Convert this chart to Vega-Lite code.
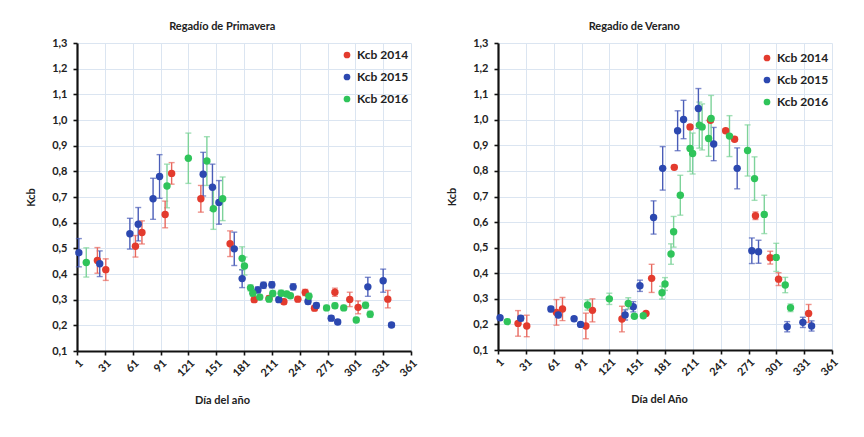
{
  "$schema": "https://vega.github.io/schema/vega-lite/v6.json",
  "background": "white",
  "padding": {"left": 25, "top": 21, "right": 5, "bottom": 5},
  "config": {
    "font": "Lato",
    "view": {"stroke": null},
    "concat": {"spacing": 27},
    "axis": {
      "domainColor": "#111", "domainWidth": 2.2,
      "tickColor": "#111", "tickWidth": 1.6, "tickSize": 4,
      "gridColor": "#dbe5f1", "gridWidth": 1,
      "labelOverlap": false, "labelFlush": false, "labelBound": false,
      "labelFont": "Lato", "labelFontWeight": "bold", "labelFontSize": 11, "labelColor": "#222",
      "titleFont": "Lato", "titleFontWeight": "bold", "titleFontSize": 11, "titleColor": "#222"
    },
    "legend": {
      "orient": "none", "title": null, "symbolType": "circle", "symbolSize": 45,
      "symbolStrokeWidth": 0, "labelFont": "Lato", "labelFontSize": 12, "labelFontWeight": "bold",
      "labelColor": "#222", "rowPadding": 10, "labelOffset": 4, "padding": 0
    },
    "title": {"font": "Lato", "fontSize": 11, "fontWeight": "bold", "color": "#222", "frame": "bounds", "offset": 5}
  },
  "datasets": {
    "P": [
      {"s": "Kcb 2014", "d": 23, "k": 0.453, "lo": 0.403, "hi": 0.503},
      {"s": "Kcb 2014", "d": 32, "k": 0.417, "lo": 0.375, "hi": 0.459},
      {"s": "Kcb 2014", "d": 64, "k": 0.508, "lo": 0.466, "hi": 0.550},
      {"s": "Kcb 2014", "d": 71, "k": 0.562, "lo": 0.517, "hi": 0.607},
      {"s": "Kcb 2014", "d": 96, "k": 0.632, "lo": 0.580, "hi": 0.684},
      {"s": "Kcb 2014", "d": 103, "k": 0.792, "lo": 0.750, "hi": 0.834},
      {"s": "Kcb 2014", "d": 134.5, "k": 0.693, "lo": 0.641, "hi": 0.745},
      {"s": "Kcb 2014", "d": 166, "k": 0.518, "lo": 0.468, "hi": 0.568},
      {"s": "Kcb 2014", "d": 192, "k": 0.300, "lo": 0.290, "hi": 0.310},
      {"s": "Kcb 2014", "d": 208, "k": 0.305, "lo": 0.295, "hi": 0.315},
      {"s": "Kcb 2014", "d": 224, "k": 0.292, "lo": 0.282, "hi": 0.302},
      {"s": "Kcb 2014", "d": 239, "k": 0.302, "lo": 0.292, "hi": 0.312},
      {"s": "Kcb 2014", "d": 247, "k": 0.328, "lo": 0.316, "hi": 0.340},
      {"s": "Kcb 2014", "d": 257, "k": 0.267, "lo": 0.257, "hi": 0.277},
      {"s": "Kcb 2014", "d": 279, "k": 0.329, "lo": 0.313, "hi": 0.345},
      {"s": "Kcb 2014", "d": 295, "k": 0.301, "lo": 0.273, "hi": 0.329},
      {"s": "Kcb 2014", "d": 304, "k": 0.270, "lo": 0.245, "hi": 0.295},
      {"s": "Kcb 2014", "d": 336, "k": 0.302, "lo": 0.268, "hi": 0.336},
      {"s": "Kcb 2015", "d": 3, "k": 0.483, "lo": 0.428, "hi": 0.538},
      {"s": "Kcb 2015", "d": 25.5, "k": 0.440, "lo": 0.390, "hi": 0.490},
      {"s": "Kcb 2015", "d": 58, "k": 0.557, "lo": 0.497, "hi": 0.617},
      {"s": "Kcb 2015", "d": 67, "k": 0.594, "lo": 0.529, "hi": 0.659},
      {"s": "Kcb 2015", "d": 83, "k": 0.693, "lo": 0.613, "hi": 0.773},
      {"s": "Kcb 2015", "d": 90, "k": 0.780, "lo": 0.695, "hi": 0.865},
      {"s": "Kcb 2015", "d": 137, "k": 0.789, "lo": 0.704, "hi": 0.874},
      {"s": "Kcb 2015", "d": 147, "k": 0.738, "lo": 0.648, "hi": 0.828},
      {"s": "Kcb 2015", "d": 154, "k": 0.679, "lo": 0.594, "hi": 0.764},
      {"s": "Kcb 2015", "d": 170.5, "k": 0.498, "lo": 0.433, "hi": 0.563},
      {"s": "Kcb 2015", "d": 179, "k": 0.382, "lo": 0.347, "hi": 0.417},
      {"s": "Kcb 2015", "d": 196, "k": 0.338, "lo": 0.326, "hi": 0.350},
      {"s": "Kcb 2015", "d": 202, "k": 0.356, "lo": 0.344, "hi": 0.368},
      {"s": "Kcb 2015", "d": 211, "k": 0.358, "lo": 0.346, "hi": 0.370},
      {"s": "Kcb 2015", "d": 218.5, "k": 0.300, "lo": 0.290, "hi": 0.310},
      {"s": "Kcb 2015", "d": 234, "k": 0.350, "lo": 0.338, "hi": 0.362},
      {"s": "Kcb 2015", "d": 250, "k": 0.293, "lo": 0.283, "hi": 0.303},
      {"s": "Kcb 2015", "d": 259, "k": 0.277, "lo": 0.267, "hi": 0.287},
      {"s": "Kcb 2015", "d": 275, "k": 0.228, "lo": 0.218, "hi": 0.238},
      {"s": "Kcb 2015", "d": 282, "k": 0.213, "lo": 0.205, "hi": 0.221},
      {"s": "Kcb 2015", "d": 314.5, "k": 0.350, "lo": 0.313, "hi": 0.387},
      {"s": "Kcb 2015", "d": 331, "k": 0.374, "lo": 0.329, "hi": 0.419},
      {"s": "Kcb 2015", "d": 340, "k": 0.201, "lo": 0.193, "hi": 0.209},
      {"s": "Kcb 2016", "d": 11, "k": 0.445, "lo": 0.388, "hi": 0.502},
      {"s": "Kcb 2016", "d": 98, "k": 0.743, "lo": 0.658, "hi": 0.828},
      {"s": "Kcb 2016", "d": 121, "k": 0.851, "lo": 0.753, "hi": 0.949},
      {"s": "Kcb 2016", "d": 141, "k": 0.840, "lo": 0.745, "hi": 0.935},
      {"s": "Kcb 2016", "d": 148, "k": 0.654, "lo": 0.574, "hi": 0.734},
      {"s": "Kcb 2016", "d": 158, "k": 0.693, "lo": 0.608, "hi": 0.778},
      {"s": "Kcb 2016", "d": 179, "k": 0.461, "lo": 0.416, "hi": 0.506},
      {"s": "Kcb 2016", "d": 181.5, "k": 0.431, "lo": 0.396, "hi": 0.466},
      {"s": "Kcb 2016", "d": 188, "k": 0.346, "lo": 0.334, "hi": 0.358},
      {"s": "Kcb 2016", "d": 190.5, "k": 0.325, "lo": 0.313, "hi": 0.337},
      {"s": "Kcb 2016", "d": 198, "k": 0.310, "lo": 0.300, "hi": 0.320},
      {"s": "Kcb 2016", "d": 208, "k": 0.302, "lo": 0.292, "hi": 0.312},
      {"s": "Kcb 2016", "d": 212, "k": 0.324, "lo": 0.312, "hi": 0.336},
      {"s": "Kcb 2016", "d": 221, "k": 0.325, "lo": 0.313, "hi": 0.337},
      {"s": "Kcb 2016", "d": 227, "k": 0.322, "lo": 0.312, "hi": 0.332},
      {"s": "Kcb 2016", "d": 231, "k": 0.315, "lo": 0.305, "hi": 0.325},
      {"s": "Kcb 2016", "d": 251, "k": 0.313, "lo": 0.301, "hi": 0.325},
      {"s": "Kcb 2016", "d": 270, "k": 0.268, "lo": 0.258, "hi": 0.278},
      {"s": "Kcb 2016", "d": 279, "k": 0.276, "lo": 0.266, "hi": 0.286},
      {"s": "Kcb 2016", "d": 288.5, "k": 0.268, "lo": 0.258, "hi": 0.278},
      {"s": "Kcb 2016", "d": 302, "k": 0.221, "lo": 0.211, "hi": 0.231},
      {"s": "Kcb 2016", "d": 312, "k": 0.278, "lo": 0.266, "hi": 0.290},
      {"s": "Kcb 2016", "d": 317, "k": 0.243, "lo": 0.231, "hi": 0.255}
    ],
    "V": [
      {"s": "Kcb 2014", "d": 22.6, "k": 0.204, "lo": 0.154, "hi": 0.254},
      {"s": "Kcb 2014", "d": 32, "k": 0.194, "lo": 0.152, "hi": 0.236},
      {"s": "Kcb 2014", "d": 64, "k": 0.247, "lo": 0.197, "hi": 0.297},
      {"s": "Kcb 2014", "d": 70.5, "k": 0.260, "lo": 0.215, "hi": 0.305},
      {"s": "Kcb 2014", "d": 95.7, "k": 0.194, "lo": 0.144, "hi": 0.244},
      {"s": "Kcb 2014", "d": 102.8, "k": 0.255, "lo": 0.210, "hi": 0.300},
      {"s": "Kcb 2014", "d": 134.6, "k": 0.221, "lo": 0.171, "hi": 0.271},
      {"s": "Kcb 2014", "d": 160.5, "k": 0.243, "lo": 0.237, "hi": 0.249},
      {"s": "Kcb 2014", "d": 166.6, "k": 0.380, "lo": 0.325, "hi": 0.435},
      {"s": "Kcb 2014", "d": 191, "k": 0.814, "lo": 0.806, "hi": 0.822},
      {"s": "Kcb 2014", "d": 208, "k": 0.972, "lo": 0.964, "hi": 0.980},
      {"s": "Kcb 2014", "d": 230, "k": 0.998, "lo": 0.990, "hi": 1.006},
      {"s": "Kcb 2014", "d": 246.4, "k": 0.957, "lo": 0.949, "hi": 0.965},
      {"s": "Kcb 2014", "d": 256, "k": 0.924, "lo": 0.916, "hi": 0.932},
      {"s": "Kcb 2014", "d": 278.5, "k": 0.625, "lo": 0.610, "hi": 0.640},
      {"s": "Kcb 2014", "d": 294.4, "k": 0.461, "lo": 0.436, "hi": 0.486},
      {"s": "Kcb 2014", "d": 303.4, "k": 0.377, "lo": 0.352, "hi": 0.402},
      {"s": "Kcb 2014", "d": 335.8, "k": 0.243, "lo": 0.208, "hi": 0.278},
      {"s": "Kcb 2015", "d": 3.2, "k": 0.226, "lo": 0.218, "hi": 0.234},
      {"s": "Kcb 2015", "d": 25.5, "k": 0.224, "lo": 0.214, "hi": 0.234},
      {"s": "Kcb 2015", "d": 58, "k": 0.260, "lo": 0.250, "hi": 0.270},
      {"s": "Kcb 2015", "d": 66, "k": 0.237, "lo": 0.227, "hi": 0.247},
      {"s": "Kcb 2015", "d": 83, "k": 0.222, "lo": 0.214, "hi": 0.230},
      {"s": "Kcb 2015", "d": 90, "k": 0.200, "lo": 0.192, "hi": 0.208},
      {"s": "Kcb 2015", "d": 138, "k": 0.237, "lo": 0.217, "hi": 0.257},
      {"s": "Kcb 2015", "d": 146.8, "k": 0.269, "lo": 0.249, "hi": 0.289},
      {"s": "Kcb 2015", "d": 154, "k": 0.351, "lo": 0.329, "hi": 0.373},
      {"s": "Kcb 2015", "d": 168.7, "k": 0.618, "lo": 0.553, "hi": 0.683},
      {"s": "Kcb 2015", "d": 178.5, "k": 0.810, "lo": 0.725, "hi": 0.895},
      {"s": "Kcb 2015", "d": 194.6, "k": 0.957, "lo": 0.879, "hi": 1.035},
      {"s": "Kcb 2015", "d": 201, "k": 1.001, "lo": 0.926, "hi": 1.076},
      {"s": "Kcb 2015", "d": 217, "k": 1.044, "lo": 0.966, "hi": 1.122},
      {"s": "Kcb 2015", "d": 233.5, "k": 0.905, "lo": 0.840, "hi": 0.970},
      {"s": "Kcb 2015", "d": 258.8, "k": 0.810, "lo": 0.730, "hi": 0.890},
      {"s": "Kcb 2015", "d": 274.6, "k": 0.488, "lo": 0.438, "hi": 0.538},
      {"s": "Kcb 2015", "d": 281.8, "k": 0.484, "lo": 0.439, "hi": 0.529},
      {"s": "Kcb 2015", "d": 312.7, "k": 0.191, "lo": 0.171, "hi": 0.211},
      {"s": "Kcb 2015", "d": 329.6, "k": 0.208, "lo": 0.188, "hi": 0.228},
      {"s": "Kcb 2015", "d": 339, "k": 0.194, "lo": 0.174, "hi": 0.214},
      {"s": "Kcb 2016", "d": 11, "k": 0.211, "lo": 0.203, "hi": 0.219},
      {"s": "Kcb 2016", "d": 97.5, "k": 0.276, "lo": 0.256, "hi": 0.296},
      {"s": "Kcb 2016", "d": 121, "k": 0.300, "lo": 0.278, "hi": 0.322},
      {"s": "Kcb 2016", "d": 141.4, "k": 0.282, "lo": 0.260, "hi": 0.304},
      {"s": "Kcb 2016", "d": 148, "k": 0.232, "lo": 0.224, "hi": 0.240},
      {"s": "Kcb 2016", "d": 157.6, "k": 0.234, "lo": 0.226, "hi": 0.242},
      {"s": "Kcb 2016", "d": 177.8, "k": 0.324, "lo": 0.299, "hi": 0.349},
      {"s": "Kcb 2016", "d": 181, "k": 0.358, "lo": 0.333, "hi": 0.383},
      {"s": "Kcb 2016", "d": 187.5, "k": 0.475, "lo": 0.435, "hi": 0.515},
      {"s": "Kcb 2016", "d": 190.3, "k": 0.562, "lo": 0.502, "hi": 0.622},
      {"s": "Kcb 2016", "d": 197.5, "k": 0.705, "lo": 0.627, "hi": 0.783},
      {"s": "Kcb 2016", "d": 208, "k": 0.888, "lo": 0.798, "hi": 0.978},
      {"s": "Kcb 2016", "d": 210.8, "k": 0.868, "lo": 0.788, "hi": 0.948},
      {"s": "Kcb 2016", "d": 218, "k": 0.979, "lo": 0.889, "hi": 1.069},
      {"s": "Kcb 2016", "d": 221, "k": 0.972, "lo": 0.882, "hi": 1.062},
      {"s": "Kcb 2016", "d": 228, "k": 0.927, "lo": 0.857, "hi": 0.997},
      {"s": "Kcb 2016", "d": 230.7, "k": 1.005, "lo": 0.915, "hi": 1.095},
      {"s": "Kcb 2016", "d": 250.5, "k": 0.936, "lo": 0.856, "hi": 1.016},
      {"s": "Kcb 2016", "d": 270, "k": 0.880, "lo": 0.780, "hi": 0.980},
      {"s": "Kcb 2016", "d": 277.5, "k": 0.770, "lo": 0.685, "hi": 0.855},
      {"s": "Kcb 2016", "d": 288, "k": 0.630, "lo": 0.555, "hi": 0.705},
      {"s": "Kcb 2016", "d": 300.9, "k": 0.462, "lo": 0.407, "hi": 0.517},
      {"s": "Kcb 2016", "d": 310.6, "k": 0.354, "lo": 0.324, "hi": 0.384},
      {"s": "Kcb 2016", "d": 316.3, "k": 0.265, "lo": 0.250, "hi": 0.280}
    ]
  },
  "hconcat": [
    {
      "width": 334, "height": 308,
      "title": {"text": "Regadío de Primavera", "anchor": "middle"},
      "data": {"name": "P"},
      "layer": [
        {
          "mark": {"type": "errorbar", "ticks": {"size": 6}, "thickness": 1.4},
          "encoding": {
            "x": {"field": "d", "type": "quantitative", "title": "Día del año",
              "scale": {"domain": [1, 361], "nice": false, "zero": false},
              "axis": {"values": [1, 31, 61, 91, 121, 151, 181, 211, 241, 271, 301, 331, 361], "labelAngle": -45, "labelOverlap": false, "titlePadding": 16, "titleX": 145}},
            "y": {"field": "lo", "type": "quantitative", "title": "Kcb",
              "scale": {"domain": [0.1, 1.3], "nice": false, "zero": false},
              "axis": {"values": [0.1, 0.2, 0.3, 0.4, 0.5, 0.6, 0.7, 0.8, 0.9, 1.0, 1.1, 1.2, 1.3], "labelOverlap": false, "labelPadding": 6, "titlePadding": 15, "labelExpr": "replace(format(datum.value, '.1f'), '.', ',')"}},
            "y2": {"field": "hi"},
            "color": {"field": "s", "type": "nominal", "legend": null,
              "scale": {"domain": ["Kcb 2014", "Kcb 2015", "Kcb 2016"], "range": ["#e8685e", "#4a5db8", "#7dd39a"]}}
          }
        },
        {
          "mark": {"type": "circle", "size": 55, "opacity": 1},
          "encoding": {
            "x": {"field": "d", "type": "quantitative", "title": "Día del año",
              "scale": {"domain": [1, 361], "nice": false, "zero": false},
              "axis": {"values": [1, 31, 61, 91, 121, 151, 181, 211, 241, 271, 301, 331, 361], "labelAngle": -45, "labelOverlap": false, "titlePadding": 16, "titleX": 145}},
            "y": {"field": "k", "type": "quantitative", "title": "Kcb",
              "scale": {"domain": [0.1, 1.3], "nice": false, "zero": false},
              "axis": {"values": [0.1, 0.2, 0.3, 0.4, 0.5, 0.6, 0.7, 0.8, 0.9, 1.0, 1.1, 1.2, 1.3], "labelOverlap": false, "labelPadding": 6, "titlePadding": 15, "labelExpr": "replace(format(datum.value, '.1f'), '.', ',')"}},
            "color": {"field": "s", "type": "nominal",
              "scale": {"domain": ["Kcb 2014", "Kcb 2015", "Kcb 2016"], "range": ["#e33b2e", "#2c48b0", "#2fc45a"]},
              "legend": {"legendX": 264, "legendY": 6}}
          }
        }
      ],
      "resolve": {"scale": {"color": "independent"}}
    },
    {
      "width": 334, "height": 307,
      "title": {"text": "Regadío de Verano", "anchor": "middle", "dx": -9},
      "data": {"name": "V"},
      "layer": [
        {
          "mark": {"type": "errorbar", "ticks": {"size": 6}, "thickness": 1.4},
          "encoding": {
            "x": {"field": "d", "type": "quantitative", "title": "Día del Año",
              "scale": {"domain": [1, 361], "nice": false, "zero": false},
              "axis": {"values": [1, 31, 61, 91, 121, 151, 181, 211, 241, 271, 301, 331, 361], "labelAngle": -45, "labelOverlap": false, "titlePadding": 16, "titleX": 161}},
            "y": {"field": "lo", "type": "quantitative", "title": "Kcb",
              "scale": {"domain": [0.1, 1.3], "nice": false, "zero": false},
              "axis": {"values": [0.1, 0.2, 0.3, 0.4, 0.5, 0.6, 0.7, 0.8, 0.9, 1.0, 1.1, 1.2, 1.3], "labelOverlap": false, "labelPadding": 6, "titlePadding": 15, "labelExpr": "replace(format(datum.value, '.1f'), '.', ',')"}},
            "y2": {"field": "hi"},
            "color": {"field": "s", "type": "nominal", "legend": null,
              "scale": {"domain": ["Kcb 2014", "Kcb 2015", "Kcb 2016"], "range": ["#e8685e", "#4a5db8", "#7dd39a"]}}
          }
        },
        {
          "mark": {"type": "circle", "size": 55, "opacity": 1},
          "encoding": {
            "x": {"field": "d", "type": "quantitative", "title": "Día del Año",
              "scale": {"domain": [1, 361], "nice": false, "zero": false},
              "axis": {"values": [1, 31, 61, 91, 121, 151, 181, 211, 241, 271, 301, 331, 361], "labelAngle": -45, "labelOverlap": false, "titlePadding": 16, "titleX": 161}},
            "y": {"field": "k", "type": "quantitative", "title": "Kcb",
              "scale": {"domain": [0.1, 1.3], "nice": false, "zero": false},
              "axis": {"values": [0.1, 0.2, 0.3, 0.4, 0.5, 0.6, 0.7, 0.8, 0.9, 1.0, 1.1, 1.2, 1.3], "labelOverlap": false, "labelPadding": 6, "titlePadding": 15, "labelExpr": "replace(format(datum.value, '.1f'), '.', ',')"}},
            "color": {"field": "s", "type": "nominal",
              "scale": {"domain": ["Kcb 2014", "Kcb 2015", "Kcb 2016"], "range": ["#e33b2e", "#2c48b0", "#2fc45a"]},
              "legend": {"legendX": 263, "legendY": 9}}
          }
        }
      ],
      "resolve": {"scale": {"color": "independent"}}
    }
  ],
  "resolve": {"scale": {"color": "independent"}, "legend": {"color": "independent"}}
}
